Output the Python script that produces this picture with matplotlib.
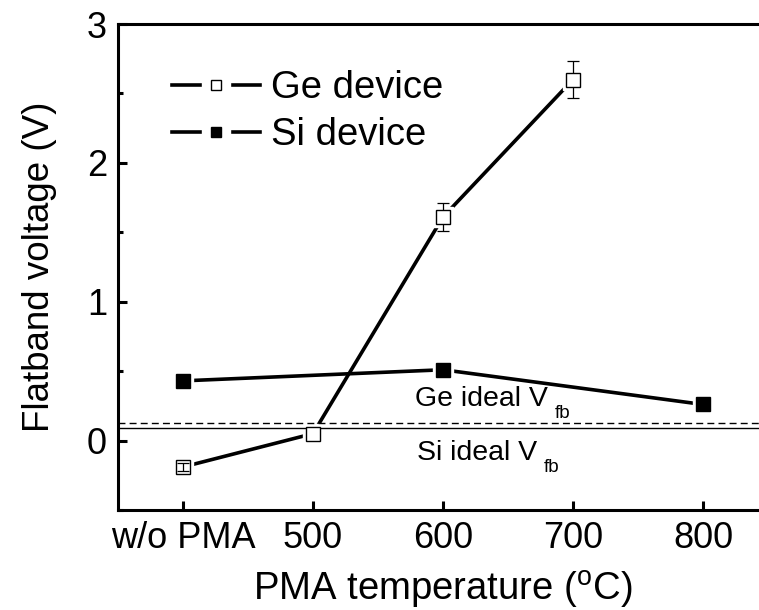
import matplotlib
matplotlib.use("Agg")
import matplotlib.pyplot as plt
from matplotlib.lines import Line2D
from matplotlib.ticker import MultipleLocator

# --- data ---
x_pos = [400, 500, 600, 700, 800]
x_labels = ["w/o PMA", "500", "600", "700", "800"]

ge_x = [400, 500, 600, 700]
ge_vfb = [-0.19, 0.05, 1.61, 2.60]
ge_err = [0.03, 0.02, 0.10, 0.135]

si_x = [400, 600, 800]
si_vfb = [0.43, 0.51, 0.26]

ge_ideal = 0.124
si_ideal = 0.088

# --- style ---
plt.rcParams.update({
    "font.family": ["Liberation Sans", "DejaVu Sans"],
    "mathtext.default": "regular",
    "axes.linewidth": 2.2,
})

lw = 2.6
ms = 10
halo_ms = 15

fig = plt.figure(figsize=(7.59, 6.10), dpi=100)
ax = fig.add_axes([118 / 759, 1 - 510 / 610, 650 / 759, 486 / 610])

# lines, then white halos to leave a gap around each marker
ax.plot(ge_x, ge_vfb, color="black", lw=lw, zorder=1)
ax.plot(si_x, si_vfb, color="black", lw=lw, zorder=1)
ax.plot(ge_x, ge_vfb, ls="none", marker="s", ms=halo_ms, color="white", zorder=2)
ax.plot(si_x, si_vfb, ls="none", marker="s", ms=halo_ms, color="white", zorder=2)

# reference lines
ax.axhline(ge_ideal, color="black", lw=1.0, ls=(0, (5, 3)), zorder=3)
ax.axhline(si_ideal, color="black", lw=1.0, zorder=3)

# error bars (first one sits on top of its marker)
ax.errorbar(ge_x[1:], ge_vfb[1:], yerr=ge_err[1:], fmt="none", ecolor="black",
            elinewidth=0.9, capsize=4.3, capthick=0.9, zorder=3.5)
ax.errorbar(ge_x[:1], ge_vfb[:1], yerr=ge_err[:1], fmt="none", ecolor="black",
            elinewidth=0.9, capsize=4.3, capthick=0.9, zorder=5)

# markers
ax.plot(ge_x, ge_vfb, ls="none", marker="s", ms=ms, mfc="white", mec="black",
        mew=1.0, zorder=4)
ax.plot(si_x, si_vfb, ls="none", marker="s", ms=ms, mfc="black", mec="black",
        mew=1.0, zorder=4)

# annotations, subscript set lower than mathtext would put it
for x0, y0, name in [(578.5, 0.249, "Ge ideal V"), (580, -0.14, "Si ideal V")]:
    t = ax.text(x0, y0, name, fontsize=20.5, ha="left", va="baseline")
    ax.annotate("fb", xy=(1, 0), xycoords=t, xytext=(5, -7),
                textcoords="offset points", fontsize=13.5, ha="left", va="bottom")

# axes
ax.set_xlim(350, 850)
ax.set_ylim(-0.5, 3.0)
ax.set_xticks(x_pos)
ax.set_xticklabels(x_labels)
ax.set_yticks([0, 1, 2, 3])
ax.yaxis.set_minor_locator(MultipleLocator(0.5))
ax.tick_params(axis="both", which="major", direction="in", length=6.5, width=2.2,
               labelsize=26)
ax.tick_params(axis="y", which="minor", direction="in", length=3.5, width=2.2)
ax.tick_params(axis="x", pad=8)
ax.tick_params(axis="y", pad=8)
ax.tick_params(top=False, right=False)
ax.spines["right"].set_visible(False)

ax.set_xlabel("PMA temperature ($^{o}$C)", fontsize=27.5, labelpad=9)
ax.set_ylabel("Flatband voltage (V)", fontsize=26.5, labelpad=21)

# legend: line - marker - line, with gaps round the marker
def handle(face):
    return (Line2D([], [], color="black", lw=lw),
            Line2D([], [], ls="none", marker="s", ms=20, color="white"),
            Line2D([], [], ls="none", marker="s", ms=7.5, mfc=face, mec="black", mew=1.0))

ax.legend([handle("white"), handle("black")], ["Ge device", "Si device"],
          loc="upper left", bbox_to_anchor=(172 / 759, 1 - 70 / 610),
          bbox_transform=fig.transFigure, frameon=False, fontsize=27.5,
          handlelength=2.3, handletextpad=0.3, labelspacing=0.29,
          borderpad=0, borderaxespad=0, numpoints=1)

fig.savefig("out.png", dpi=100)
